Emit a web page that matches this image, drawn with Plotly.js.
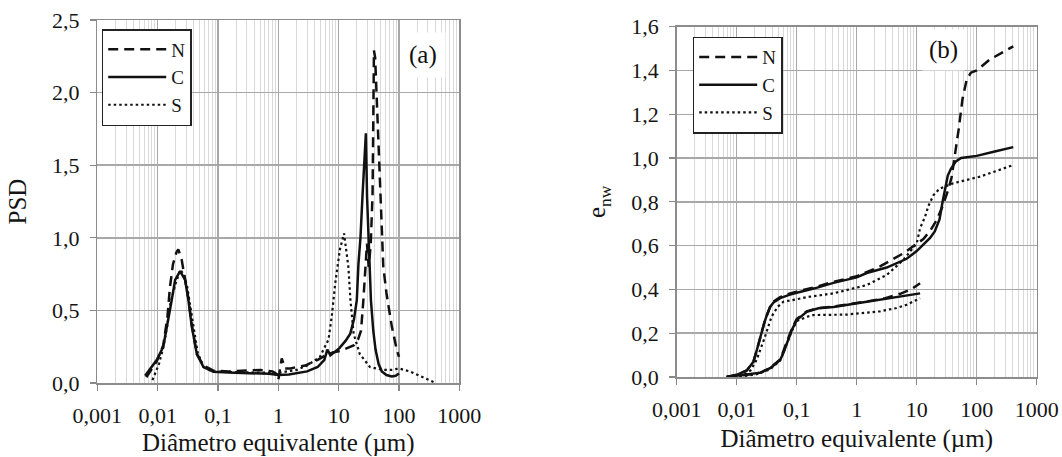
<!DOCTYPE html>
<html><head><meta charset="utf-8">
<script src="https://cdn.plot.ly/plotly-3.0.1.min.js"></script>
<style>html,body{margin:0;padding:0;background:#fff;}#chart{width:1062px;height:457px;}</style>
</head><body><div id="chart"></div>
<script>
// ---------- tick labels ----------
const xTickVals = [0.001, 0.01, 0.1, 1, 10, 100, 1000];
const xTickText = ['0,001', '0,01', '0,1', '1', '10', '100', '1000'];
const yaTickVals = [0, 0.5, 1.0, 1.5, 2.0, 2.5];
const yaTickText = ['0,0', '0,5', '1,0', '1,5', '2,0', '2,5'];
const ybTickVals = [0, 0.2, 0.4, 0.6, 0.8, 1.0, 1.2, 1.4, 1.6];
const ybTickText = ['0,0', '0,2', '0,4', '0,6', '0,8', '1,0', '1,2', '1,4', '1,6'];
const seriesNames = ['N', 'C', 'S'];

// ---------- panel (a) PSD ----------
const aN_x = [0.0065, 0.0097, 0.0124, 0.0145, 0.016, 0.018, 0.0205, 0.022, 0.025, 0.0285, 0.0324, 0.0368, 0.0446, 0.0575, 0.084, 0.15, 0.3, 0.5, 0.8, 0.95, 1.0, 1.07, 1.14, 1.3, 1.6, 2.0, 2.8, 3.5, 4.5, 6, 8, 10.5, 14, 18, 21, 23.5, 25.5, 27.5, 29.5, 31.5, 34, 36.5, 37.8, 38.5, 40.3, 45, 50, 55, 62, 76, 92, 100];
const aN_y = [0.04, 0.15, 0.26, 0.45, 0.66, 0.82, 0.9, 0.92, 0.85, 0.72, 0.58, 0.4, 0.2, 0.12, 0.085, 0.08, 0.085, 0.09, 0.08, 0.06, 0.02, 0.1, 0.17, 0.1, 0.1, 0.11, 0.12, 0.14, 0.16, 0.19, 0.21, 0.22, 0.24, 0.26, 0.3, 0.36, 0.55, 0.78, 0.96, 0.8, 0.95, 1.3, 1.9, 2.29, 2.24, 1.75, 1.3, 0.8, 0.62, 0.39, 0.23, 0.18];

const aC_x = [0.0062, 0.0097, 0.0124, 0.0151, 0.0171, 0.0195, 0.0236, 0.0285, 0.0324, 0.0368, 0.0446, 0.0575, 0.084, 0.15, 0.39, 0.7, 1.0, 1.5, 3.0, 4.5, 5.8, 6.5, 7.3, 10.3, 13, 15.6, 18, 20, 21.3, 23, 24.8, 26.5, 28.3, 29.6, 31.5, 34.3, 37.5, 40.9, 46, 52, 62, 76, 88, 100];
const aC_y = [0.05, 0.16, 0.25, 0.43, 0.57, 0.71, 0.77, 0.71, 0.57, 0.39, 0.2, 0.11, 0.078, 0.072, 0.067, 0.063, 0.055, 0.058, 0.08, 0.11, 0.16, 0.23, 0.19, 0.24, 0.29, 0.34, 0.44, 0.57, 0.82, 1.0, 1.28, 1.5, 1.72, 1.28, 0.94, 0.57, 0.36, 0.23, 0.13, 0.08, 0.055, 0.045, 0.05, 0.066];

const aS_x = [0.0082, 0.0105, 0.0125, 0.0145, 0.0163, 0.02, 0.024, 0.0275, 0.031, 0.038, 0.046, 0.058, 0.08, 0.15, 0.4, 1, 2, 3, 4.9, 6.8, 7.7, 8.8, 10.5, 12.3, 14.5, 15.7, 17.7, 22.4, 33, 54, 75, 100, 150, 250, 412];
const aS_y = [0.02, 0.13, 0.25, 0.4, 0.55, 0.69, 0.78, 0.74, 0.66, 0.43, 0.21, 0.11, 0.08, 0.075, 0.07, 0.07, 0.09, 0.12, 0.18, 0.3, 0.46, 0.69, 0.92, 1.03, 0.8, 0.57, 0.34, 0.2, 0.11, 0.09, 0.09, 0.10, 0.08, 0.04, 0.0];

// ---------- panel (b) e_nw : upper and lower branches ----------
const bN_up_x = [0.0068, 0.01, 0.0147, 0.019, 0.0215, 0.024, 0.026, 0.029, 0.0316, 0.036, 0.041, 0.053, 0.075, 0.1, 0.2, 0.41, 1.0, 2.45, 6, 12.9, 17, 21.5, 27, 33, 38, 43, 50, 58, 68, 80, 100, 165, 407];
const bN_up_y = [0, 0.01, 0.03, 0.07, 0.12, 0.17, 0.2, 0.25, 0.28, 0.32, 0.345, 0.365, 0.38, 0.39, 0.41, 0.435, 0.46, 0.505, 0.565, 0.63, 0.67, 0.717, 0.78, 0.85, 0.91, 1.0, 1.13, 1.27, 1.357, 1.39, 1.40, 1.45, 1.51];
const bN_lo_x = [0.0068, 0.015, 0.025, 0.036, 0.053, 0.068, 0.083, 0.1, 0.147, 0.23, 0.41, 1.47, 3, 5.3, 8, 11.4];
const bN_lo_y = [0, 0.01, 0.02, 0.04, 0.08, 0.16, 0.22, 0.265, 0.3, 0.315, 0.322, 0.345, 0.36, 0.38, 0.4, 0.428];

const bC_up_x = [0.0068, 0.01, 0.0147, 0.019, 0.0215, 0.024, 0.026, 0.029, 0.0316, 0.036, 0.041, 0.053, 0.075, 0.1, 0.2, 0.41, 1.0, 1.47, 3.16, 5.3, 6.8, 10, 13, 16.7, 20, 24, 27, 30, 33, 37, 45, 55, 70, 100, 200, 407];
const bC_up_y = [0, 0.01, 0.03, 0.07, 0.12, 0.17, 0.2, 0.25, 0.28, 0.32, 0.34, 0.36, 0.375, 0.385, 0.405, 0.43, 0.455, 0.475, 0.5, 0.525, 0.54, 0.575, 0.605, 0.635, 0.665, 0.72, 0.8, 0.87, 0.92, 0.95, 0.985, 1.0, 1.005, 1.01, 1.03, 1.05];
const bC_lo_x = [0.0068, 0.0147, 0.025, 0.036, 0.053, 0.06, 0.068, 0.083, 0.1, 0.147, 0.23, 0.41, 1.47, 5.3, 11.4];
const bC_lo_y = [0, 0.01, 0.02, 0.04, 0.078, 0.11, 0.154, 0.215, 0.26, 0.298, 0.314, 0.32, 0.344, 0.367, 0.382];

const bS_up_x = [0.009, 0.013, 0.017, 0.0215, 0.0296, 0.038, 0.048, 0.06, 0.1, 0.147, 0.41, 1.47, 3.16, 6, 10, 11.4, 13.8, 15.6, 19, 24, 40.7, 113, 407];
const bS_up_y = [0, 0.01, 0.03, 0.078, 0.184, 0.275, 0.32, 0.344, 0.355, 0.365, 0.382, 0.42, 0.466, 0.535, 0.61, 0.68, 0.732, 0.78, 0.83, 0.86, 0.885, 0.915, 0.968];
const bS_lo_x = [0.009, 0.02, 0.036, 0.053, 0.068, 0.083, 0.1, 0.147, 0.19, 0.68, 2.45, 4.6, 6.8, 10, 11.4];
const bS_lo_y = [0, 0.01, 0.035, 0.075, 0.15, 0.21, 0.255, 0.275, 0.283, 0.285, 0.3, 0.315, 0.33, 0.355, 0.36];

// ---------- styles ----------
const FONT = '"Liberation Serif", "DejaVu Serif", serif';
const INK = '#111111';
const TXT = '#151515';
const lineStyles = {
  N: {color: INK, width: 2.5, dash: '10px,6px'},
  C: {color: INK, width: 2.5, dash: 'solid'},
  S: {color: INK, width: 2.2, dash: '2.5px,3px'}
};

function tr(x, y, name, xa, ya, leg, show) {
  return {x: x, y: y, name: name, type: 'scatter', mode: 'lines', xaxis: xa, yaxis: ya,
          line: lineStyles[name], legend: leg, legendgroup: leg + name, showlegend: show,
          hoverinfo: 'skip'};
}

const data = [
  tr(aN_x, aN_y, 'N', 'x', 'y', 'legend', true),
  tr(aC_x, aC_y, 'C', 'x', 'y', 'legend', true),
  tr(aS_x, aS_y, 'S', 'x', 'y', 'legend', true),
  tr(bN_up_x, bN_up_y, 'N', 'x2', 'y2', 'legend2', true),
  tr(bC_up_x, bC_up_y, 'C', 'x2', 'y2', 'legend2', true),
  tr(bS_up_x, bS_up_y, 'S', 'x2', 'y2', 'legend2', true),
  tr(bN_lo_x, bN_lo_y, 'N', 'x2', 'y2', 'legend2', false),
  tr(bC_lo_x, bC_lo_y, 'C', 'x2', 'y2', 'legend2', false),
  tr(bS_lo_x, bS_lo_y, 'S', 'x2', 'y2', 'legend2', false)
];

function xAxis(domain, anchor) {
  return {
    type: 'log', range: [-3, 3], domain: domain, anchor: anchor,
    tickmode: 'array', tickvals: xTickVals, ticktext: xTickText,
    ticks: 'outside', ticklen: 6, tickwidth: 1.2, tickcolor: '#888',
    ticklabelstandoff: 6,
    showline: true, linecolor: '#8c8c8c', linewidth: 1.5, mirror: true,
    showgrid: true, gridcolor: '#a8a8a8', gridwidth: 1.5,
    minor: {dtick: 'D1', showgrid: true, gridcolor: '#d9d9d9', gridwidth: 1, ticks: ''},
    zeroline: false, automargin: false,
    tickfont: {family: FONT, size: 22, color: TXT},
    title: {text: 'Diâmetro equivalente (µm)', font: {family: FONT, size: 25, color: TXT}, standoff: 8}
  };
}
function yAxis(domain, anchor, range, tv, tt, title) {
  return {
    range: range, domain: domain, anchor: anchor,
    tickmode: 'array', tickvals: tv, ticktext: tt,
    ticks: 'outside', ticklen: 6, tickwidth: 1.2, tickcolor: '#888',
    ticklabelstandoff: 6,
    showline: true, linecolor: '#8c8c8c', linewidth: 1.5, mirror: true,
    showgrid: true, gridcolor: '#a8a8a8', gridwidth: 1.5,
    zeroline: false, automargin: false,
    tickfont: {family: FONT, size: 22, color: TXT},
    title: {text: title, font: {family: FONT, size: 25, color: TXT}, standoff: 18}
  };
}

const legendBase = {
  xanchor: 'left', yanchor: 'top', bgcolor: '#ffffff', bordercolor: '#222', borderwidth: 1.5,
  font: {family: FONT, size: 19, color: TXT}, itemwidth: 58, tracegroupgap: 0,
  traceorder: 'normal'
};

const layout = {
  width: 1062, height: 457,
  margin: {l: 0, r: 0, t: 0, b: 0},
  paper_bgcolor: '#ffffff', plot_bgcolor: '#ffffff',
  font: {family: FONT},
  showlegend: true,
  xaxis: xAxis([97.3 / 1062, 459.3 / 1062], 'y'),
  yaxis: yAxis([74 / 457, 437 / 457], 'x', [0, 2.5], yaTickVals, yaTickText, 'PSD'),
  xaxis2: xAxis([676.7 / 1062, 1036.7 / 1062], 'y2'),
  yaxis2: yAxis([80 / 457, 430.3 / 457], 'x2', [0, 1.6], ybTickVals, ybTickText, 'e<sub>nw</sub>'),
  legend: Object.assign({}, legendBase, {x: 101.7 / 1062, y: 1 - 29 / 457}),
  legend2: Object.assign({}, legendBase, {x: 692.7 / 1062, y: 1 - 36.7 / 457}),
  annotations: [
    {text: '(a)', xref: 'paper', yref: 'paper', x: 423.3 / 1062, y: 1 - 55 / 457,
     xanchor: 'center', yanchor: 'middle',
     showarrow: false, bgcolor: '#ffffff', borderpad: 8, font: {family: FONT, size: 25, color: '#111'}},
    {text: '(b)', xref: 'paper', yref: 'paper', x: 943.3 / 1062, y: 1 - 50 / 457,
     xanchor: 'center', yanchor: 'middle',
     showarrow: false, bgcolor: '#ffffff', borderpad: 6, font: {family: FONT, size: 25, color: '#111'}}
  ]
};

Plotly.newPlot('chart', data, layout, {staticPlot: true, displayModeBar: false});
</script></body></html>
